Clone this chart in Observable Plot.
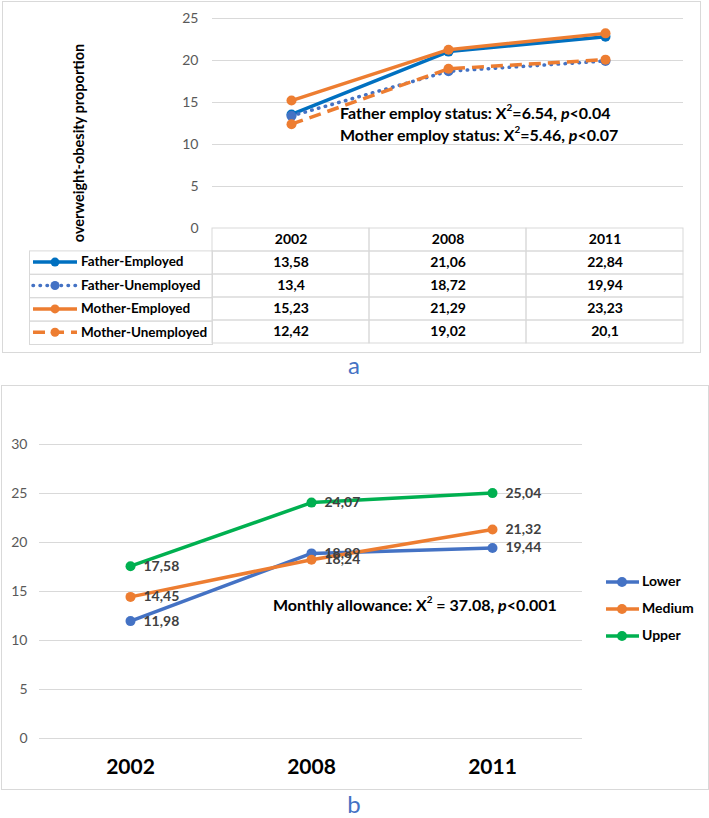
<!DOCTYPE html>
<html><head><meta charset="utf-8">
<script src="https://cdn.jsdelivr.net/npm/d3@7"></script>
<script src="https://cdn.jsdelivr.net/npm/@observablehq/plot@0.6"></script>
<style>
body{margin:0;background:#fff;font-family:Lato,"Open Sans",sans-serif;}
#root{position:relative;width:709px;height:818px;overflow:hidden;background:#fff;}
.box{position:absolute;border:1px solid #d9d9d9;box-sizing:border-box;}
.note{position:absolute;font-weight:bold;color:#000;white-space:nowrap;font-size:16px;line-height:22px;}
.note sup{font-size:0.62em;position:relative;top:-0.15em;vertical-align:super;line-height:0;}
.cap{position:absolute;color:#4472C4;font-size:24px;transform:translate(-50%,-50%);line-height:1;}
.ytitle{position:absolute;font-weight:bold;font-size:14.5px;color:#000;white-space:nowrap;transform:translate(-50%,-50%) rotate(-90deg);}
svg{position:absolute;left:0;}
</style></head><body><div id="root"></div>
<script>
// ---------- Data (panel a) ----------
const years = ["2002", "2008", "2011"];
const seriesA = ["Father-Employed", "Father-Unemployed", "Mother-Employed", "Mother-Unemployed"];
const fatherEmployed = [13.58, 21.06, 22.84];
const fatherUnemployed = [13.4, 18.72, 19.94];
const motherEmployed = [15.23, 21.29, 23.23];
const motherUnemployed = [12.42, 19.02, 20.1];
const yTicksA = [0, 5, 10, 15, 20, 25];
// ---------- Data (panel b) ----------
const groupsB = ["Lower", "Medium", "Upper"];
const lower = [11.98, 18.89, 19.44];
const medium = [14.45, 18.24, 21.32];
const upper = [17.58, 24.07, 25.04];
const yTicksB = [0, 5, 10, 15, 20, 25, 30];

// ---------- Styles ----------
const styleA = {
  "Father-Employed": {color: "#0070C0", dash: null, cap: "butt"},
  "Father-Unemployed": {color: "#4472C4", dash: "0.5 6.5", cap: "round"},
  "Mother-Employed": {color: "#ED7D31", dash: null, cap: "butt"},
  "Mother-Unemployed": {color: "#ED7D31", dash: "12 7", cap: "butt"}
};
const colorB = {"Lower": "#4472C4", "Medium": "#ED7D31", "Upper": "#00B050"};
const fmt = v => String(v).replace(".", ",");

const valuesA = [fatherEmployed, fatherUnemployed, motherEmployed, motherUnemployed];
const dataA = seriesA.flatMap((s, i) => valuesA[i].map((v, j) => ({series: s, year: years[j], value: v})));
const valuesB = [lower, medium, upper];
const dataB = groupsB.flatMap((g, i) => valuesB[i].map((v, j) => ({group: g, year: years[j], value: v})));

const root = document.getElementById("root");
const font = "Lato, 'Open Sans', sans-serif";

function addDiv(cls, css, html) {
  const d = document.createElement("div");
  d.className = cls;
  Object.assign(d.style, css);
  d.innerHTML = html;
  root.appendChild(d);
  return d;
}

// panel frames
addDiv("box", {left: "2px", top: "1px", width: "699px", height: "352px"}, "");
addDiv("box", {left: "1px", top: "385px", width: "708px", height: "405px"}, "");

// ---------- Panel a: chart ----------
const H_A = 355;
const chartA = Plot.plot({
  width: 709, height: H_A,
  marginTop: 18, marginBottom: H_A - 228, marginLeft: 212, marginRight: 26,
  style: {background: "transparent", fontFamily: font, fontSize: "14px", color: "#595959", overflow: "visible"},
  x: {type: "point", domain: years, padding: 0.5, axis: null},
  y: {domain: [0, 25], ticks: yTicksA, tickSize: 0, tickPadding: 14, label: null},
  marks: [
    Plot.ruleY(yTicksA.filter(t => t > 0), {stroke: "#d9d9d9", strokeWidth: 1}),
    ...seriesA.flatMap(s => {
      const st = styleA[s];
      const d = dataA.filter(r => r.series === s);
      return [
        Plot.line(d, {x: "year", y: "value", stroke: st.color, strokeWidth: 3.5,
          strokeDasharray: st.dash, strokeLinecap: st.cap, strokeLinejoin: "round"}),
        Plot.dot(d, {x: "year", y: "value", r: 5, fill: st.color, stroke: "none"})
      ];
    })
  ]
});
chartA.style.top = "0px";
root.appendChild(chartA);

// ---------- Panel a: data table ----------
const rowsA = ["header", ...seriesA];
const tableCells = rowsA.flatMap(r => years.map(y => ({row: r, year: y})));
const tableText = [
  ...years.map(y => ({row: "header", year: y, label: y})),
  ...dataA.map(d => ({row: d.series, year: d.year, label: fmt(d.value)}))
];
const tableA = Plot.plot({
  width: 709, height: H_A,
  marginTop: 227, marginBottom: H_A - 344, marginLeft: 212, marginRight: 26,
  style: {background: "transparent", fontFamily: font, fontSize: "14px", overflow: "visible"},
  x: {type: "band", domain: years, padding: 0, axis: null},
  y: {type: "band", domain: rowsA, padding: 0, axis: null},
  marks: [
    Plot.cell(tableCells, {x: "year", y: "row", fill: "none", stroke: "#d9d9d9", strokeWidth: 1, inset: 0}),
    Plot.text(tableText, {x: "year", y: "row", text: "label", fill: "#000", fontWeight: "bold", fontSize: 14})
  ]
});
tableA.style.top = "0px";
root.appendChild(tableA);

// legend column of the table, positioned with the table's y scale
{
  const ys = tableA.scale("y");
  const yb = d3.scaleBand().domain(ys.domain).range(ys.range)
    .paddingInner(ys.paddingInner ?? 0).paddingOuter(ys.paddingOuter ?? 0).align(ys.align ?? 0.5);
  const g = d3.select(tableA).append("g").attr("text-anchor", "start");
  const left = 29, right = 212;
  seriesA.forEach(s => {
    const st = styleA[s];
    const y0 = yb(s), h = yb.bandwidth(), cy = y0 + h / 2;
    g.append("rect").attr("x", left + 0.5).attr("y", y0 + 0.5).attr("width", right - left).attr("height", h)
      .attr("fill", "none").attr("stroke", "#d9d9d9");
    g.append("line").attr("x1", 33).attr("x2", 77).attr("y1", cy).attr("y2", cy)
      .attr("stroke", st.color).attr("stroke-width", 3.5)
      .attr("stroke-dasharray", st.dash).attr("stroke-linecap", st.cap);
    g.append("circle").attr("cx", 55).attr("cy", cy).attr("r", 4.5).attr("fill", st.color);
    g.append("text").attr("x", 81).attr("y", cy).attr("dy", "0.32em").attr("text-anchor", "start").text(s)
      .attr("font-family", font).attr("font-size", 13.5).attr("font-weight", "bold").attr("fill", "#000");
  });
}

// axis title + annotations (panel a)
addDiv("ytitle", {left: "78px", top: "143px"}, "overweight-obesity proportion");
addDiv("note", {left: "340px", top: "102px"},
  "Father employ status: X<sup>2</sup>=6.54, <i>p</i>&lt;0.04<br>Mother employ status: X<sup>2</sup>=5.46, <i>p</i>&lt;0.07");
addDiv("cap", {left: "354px", top: "365px"}, "a");

// ---------- Panel b ----------
const TOP_B = 385, H_B = 405;
const chartB = Plot.plot({
  width: 709, height: H_B,
  marginTop: 444 - TOP_B, marginBottom: H_B - (738 - TOP_B), marginLeft: 39, marginRight: 709 - 582,
  style: {background: "transparent", fontFamily: font, fontSize: "14px", color: "#595959", overflow: "visible"},
  x: {type: "point", domain: years, padding: 0.5, tickSize: 0, tickPadding: 21, label: null},
  y: {domain: [0, 30], ticks: yTicksB, tickSize: 0, tickPadding: 12, label: null},
  marks: [
    Plot.ruleY(yTicksB, {stroke: "#d9d9d9", strokeWidth: 1}),
    ...groupsB.flatMap(gname => {
      const d = dataB.filter(r => r.group === gname);
      return [
        Plot.line(d, {x: "year", y: "value", stroke: colorB[gname], strokeWidth: 3.5, strokeLinejoin: "round"}),
        Plot.dot(d, {x: "year", y: "value", r: 5, fill: colorB[gname], stroke: "none"})
      ];
    }),
    Plot.text(dataB, {x: "year", y: "value", text: d => fmt(d.value), dx: 13, textAnchor: "start",
      fill: "#404040", fontWeight: "bold", fontSize: 14})
  ]
});
chartB.style.top = TOP_B + "px";
root.appendChild(chartB);
d3.select(chartB).selectAll('[aria-label^="x-axis"] text')
  .attr("font-size", 21).style("font-size", "21px").attr("font-weight", "bold").attr("fill", "#000").style("fill", "#000");

// legend (panel b)
{
  const g = d3.select(chartB).append("g").attr("text-anchor", "start");
  groupsB.forEach((name, i) => {
    const cy = [582, 609, 636][i] - TOP_B;
    g.append("line").attr("x1", 606).attr("x2", 639).attr("y1", cy).attr("y2", cy)
      .attr("stroke", colorB[name]).attr("stroke-width", 3.5);
    g.append("circle").attr("cx", 622).attr("cy", cy).attr("r", 5).attr("fill", colorB[name]);
    g.append("text").attr("x", 642).attr("y", cy).attr("dy", "0.32em").attr("text-anchor", "start").text(name)
      .attr("font-family", font).attr("font-size", 14).attr("font-weight", "bold").attr("fill", "#000");
  });
}
addDiv("note", {left: "273px", top: "594px"}, "Monthly allowance: X<sup>2</sup> = 37.08, <i>p</i>&lt;0.001");
addDiv("cap", {left: "354px", top: "804px"}, "b");
</script>
</body></html>
